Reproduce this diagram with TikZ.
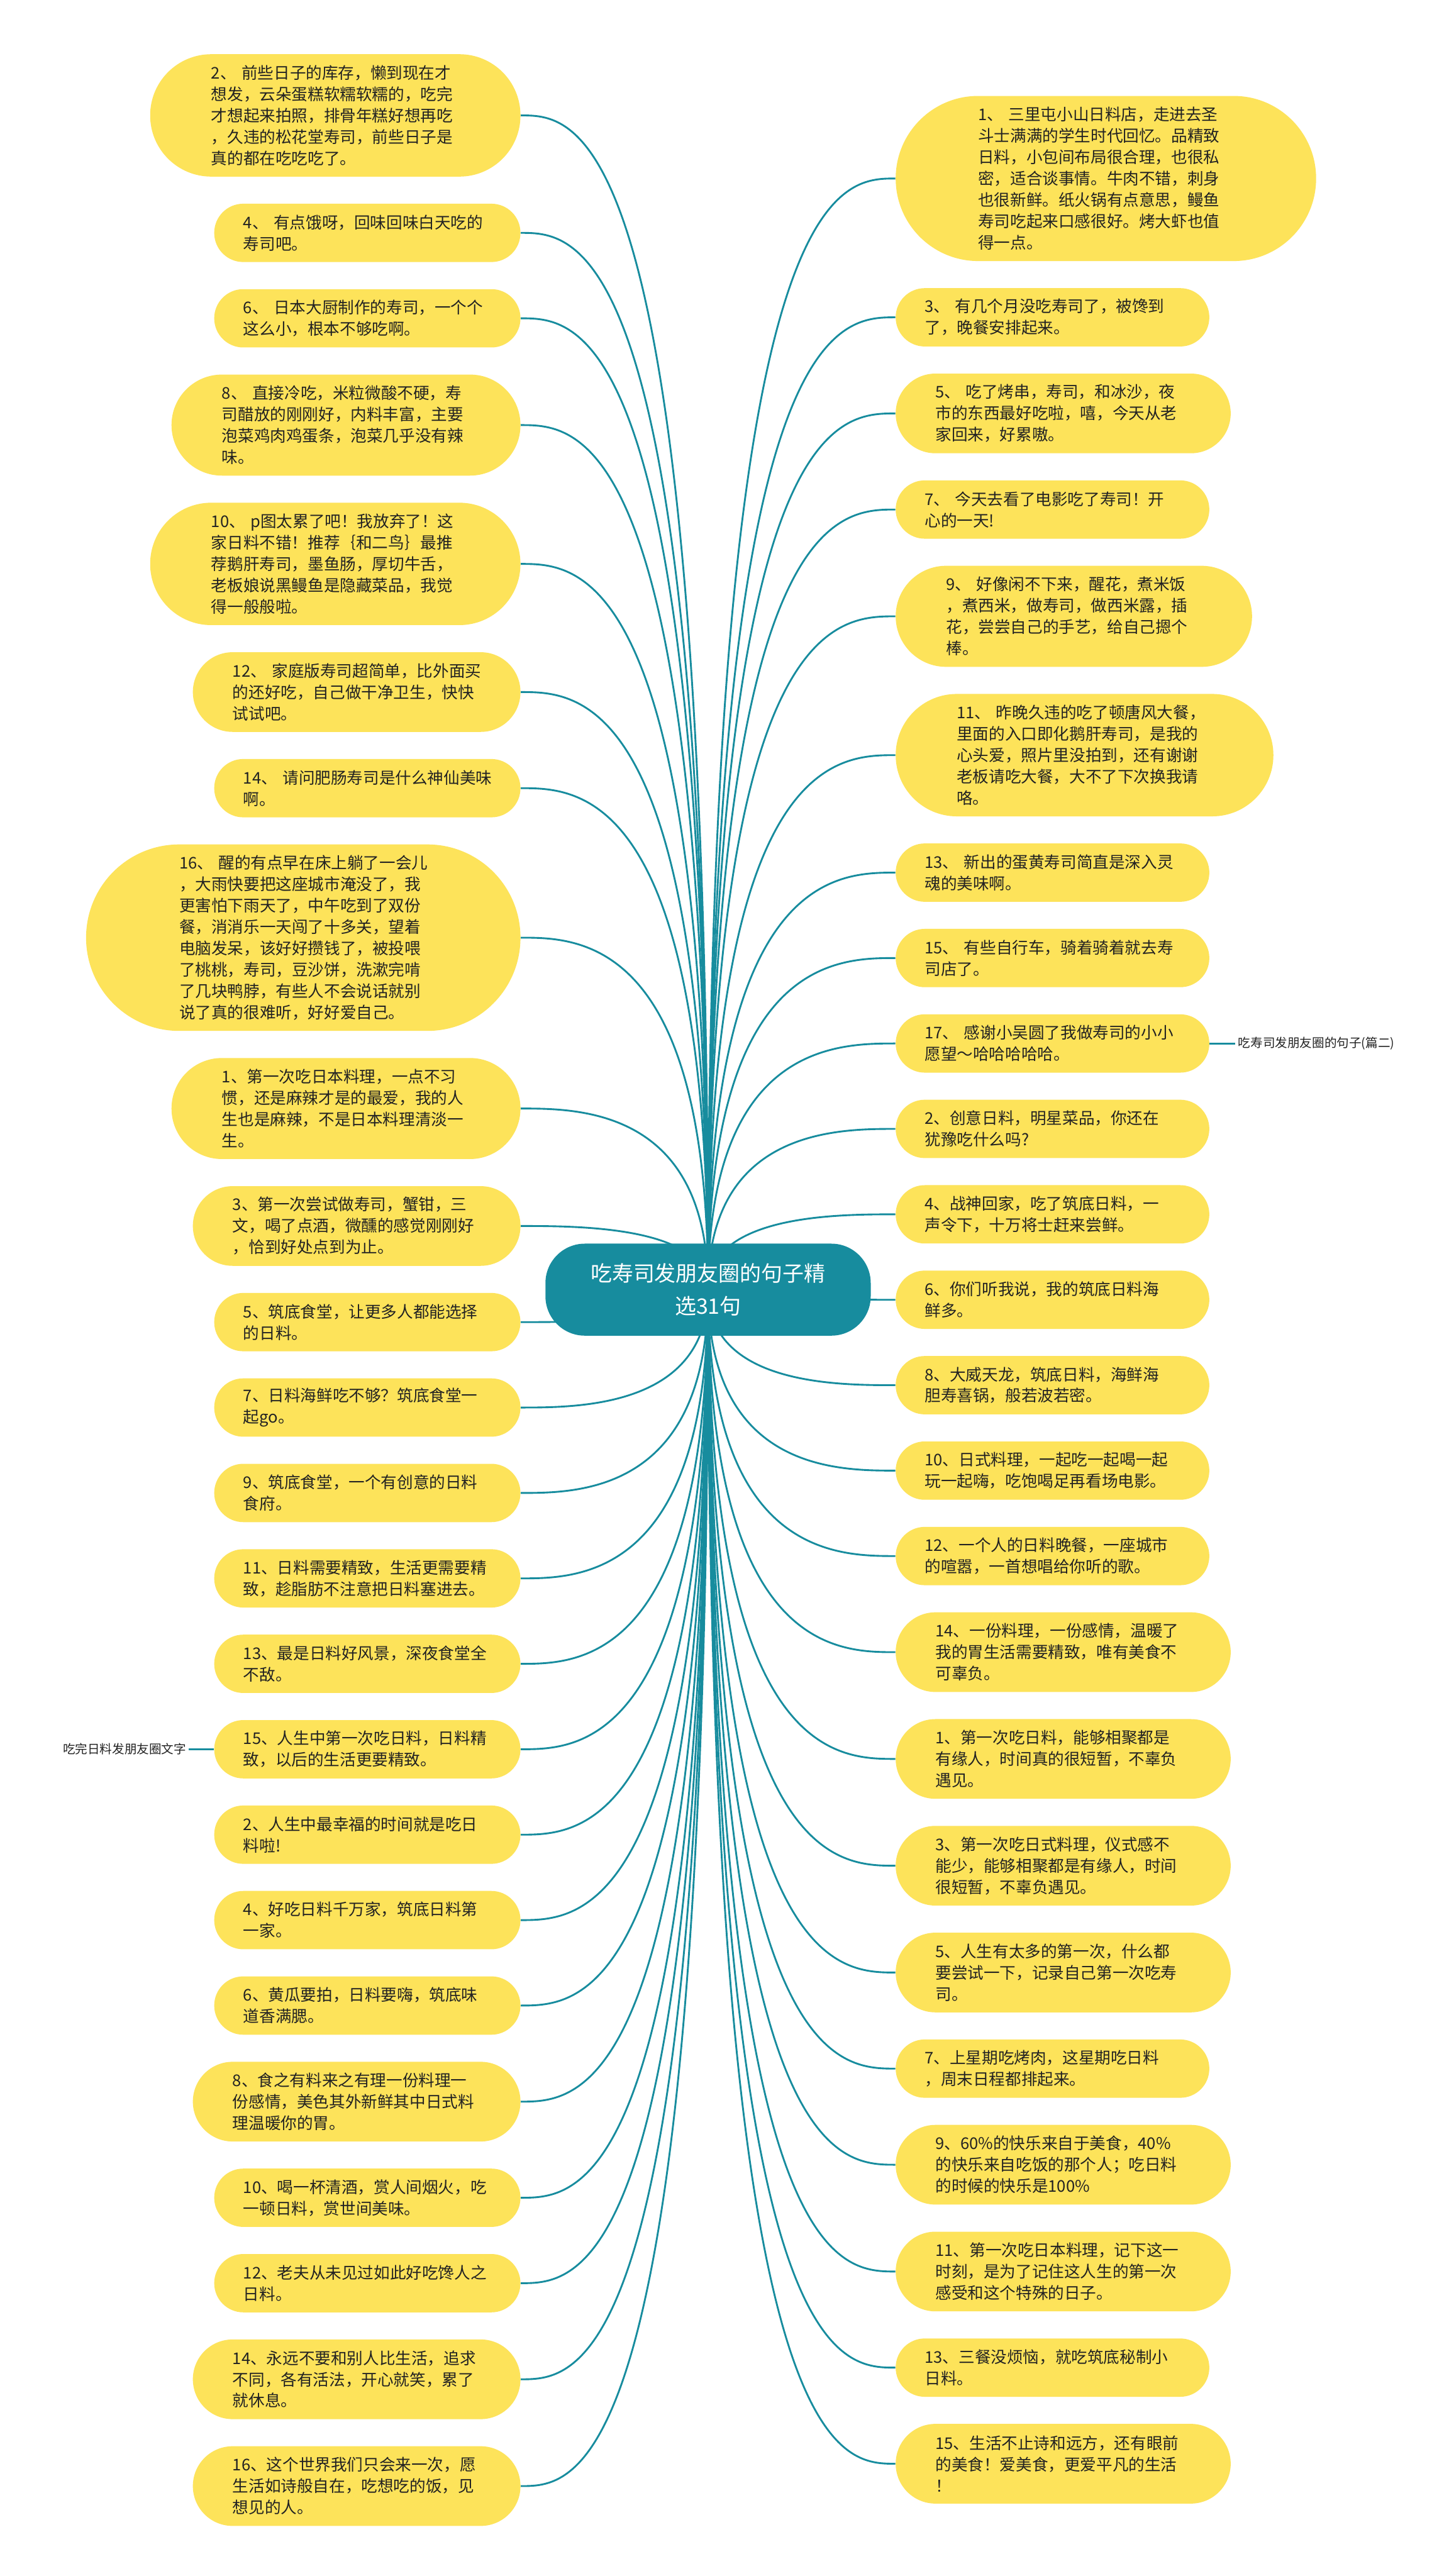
\documentclass[tikz,border=0pt]{standalone}
\usepackage{fontspec}
\setmainfont{Noto Sans CJK SC}
\definecolor{leafyellow}{HTML}{FDE35A}
\definecolor{mmteal}{HTML}{178C9E}
\definecolor{inktext}{HTML}{222222}
\pgfdeclarelayer{bg}
\pgfsetlayers{bg,main}
\tikzset{
  leafbox/.style={fill=leafyellow, draw=none, text=inktext, font=\fontsize{9.8}{13}\selectfont, align=left, inner ysep=1pt},
  rootbox/.style={fill=mmteal, draw=none, text=white, font=\fontsize{13}{20}\selectfont, align=center, minimum width=198pt, minimum height=56pt, rounded corners=24pt, inner sep=0pt},
  conn/.style={draw=mmteal, line width=1.1pt},
  sidelabel/.style={font=\fontsize{7.5}{9}\selectfont, text=inktext, inner sep=1.5pt}
}
\newcommand\leftleaf[4]{%
  \pgfmathsetmacro\lfH{13*#3+9.5}%
  \pgfmathsetmacro\lfR{\lfH/2-0.05}%
  \node[leafbox, anchor=east, text width=151pt, inner xsep=\lfR pt, minimum height=\lfH pt, rounded corners=\lfR pt] (#1) at (317,#2) {#4};%
  \begin{pgfonlayer}{bg}\draw[conn] (root.center) .. controls (root.center |- #1.east) and ([xshift=35pt]#1.east) .. (#1.east);\end{pgfonlayer}}
\newcommand\rightleaf[4]{%
  \pgfmathsetmacro\lfH{13*#3+9.5}%
  \pgfmathsetmacro\lfR{\lfH/2-0.05}%
  \node[leafbox, anchor=west, text width=155.5pt, inner xsep=\lfR pt, minimum height=\lfH pt, rounded corners=\lfR pt] (#1) at (545,#2) {#4};%
  \begin{pgfonlayer}{bg}\draw[conn] (root.center) .. controls (root.center |- #1.west) and ([xshift=-35pt]#1.west) .. (#1.west);\end{pgfonlayer}}
\begin{document}
\begin{tikzpicture}[x=1pt,y=-1pt]
\begin{pgfonlayer}{bg}
\fill[white] (0,0) rectangle (882,1568);
\end{pgfonlayer}
\useasboundingbox (0,0) rectangle (882,1568);

\node[rootbox] (root) at (431,785) {吃寿司发朋友圈的句子精\\选31句};

% left column
\leftleaf{L1}{70.25}{5}{2、~前些日子的库存，懒到现在才\\想发，云朵蛋糕软糯软糯的，吃完\\才想起来拍照，排骨年糕好想再吃\\，久违的松花堂寿司，前些日子是\\真的都在吃吃吃了。}
\leftleaf{L2}{141.75}{2}{4、~有点饿呀，回味回味白天吃的\\寿司吧。}
\leftleaf{L3}{193.75}{2}{6、~日本大厨制作的寿司，一个个\\这么小，根本不够吃啊。}
\leftleaf{L4}{258.75}{4}{8、~直接冷吃，米粒微酸不硬，寿\\司醋放的刚刚好，内料丰富，主要\\泡菜鸡肉鸡蛋条，泡菜几乎没有辣\\味。}
\leftleaf{L5}{343.25}{5}{10、~p图太累了吧！我放弃了！这\\家日料不错！推荐｛和二鸟｝最推\\荐鹅肝寿司，墨鱼肠，厚切牛舌，\\老板娘说黑鳗鱼是隐藏菜品，我觉\\得一般般啦。}
\leftleaf{L6}{421.25}{3}{12、~家庭版寿司超简单，比外面买\\的还好吃，自己做干净卫生，快快\\试试吧。}
\leftleaf{L7}{479.75}{2}{14、~请问肥肠寿司是什么神仙美味\\啊。}
\leftleaf{L8}{570.75}{8}{16、~醒的有点早在床上躺了一会儿\\，大雨快要把这座城市淹没了，我\\更害怕下雨天了，中午吃到了双份\\餐，消消乐一天闯了十多关，望着\\电脑发呆，该好好攒钱了，被投喂\\了桃桃，寿司，豆沙饼，洗漱完啃\\了几块鸭脖，有些人不会说话就别\\说了真的很难听，好好爱自己。}
\leftleaf{L9}{674.75}{4}{1、第一次吃日本料理，一点不习\\惯，还是麻辣才是的最爱，我的人\\生也是麻辣，不是日本料理清淡一\\生。}
\leftleaf{L10}{746.25}{3}{3、第一次尝试做寿司，蟹钳，三\\文，喝了点酒，微醺的感觉刚刚好\\，恰到好处点到为止。}
\leftleaf{L11}{804.75}{2}{5、筑底食堂，让更多人都能选择\\的日料。}
\leftleaf{L12}{856.75}{2}{7、日料海鲜吃不够？筑底食堂一\\起go。}
\leftleaf{L13}{908.75}{2}{9、筑底食堂，一个有创意的日料\\食府。}
\leftleaf{L14}{960.75}{2}{11、日料需要精致，生活更需要精\\致，趁脂肪不注意把日料塞进去。}
\leftleaf{L15}{1012.75}{2}{13、最是日料好风景，深夜食堂全\\不敌。}
\leftleaf{L16}{1064.75}{2}{15、人生中第一次吃日料，日料精\\致，以后的生活更要精致。}
\leftleaf{L17}{1116.75}{2}{2、人生中最幸福的时间就是吃日\\料啦!}
\leftleaf{L18}{1168.75}{2}{4、好吃日料千万家，筑底日料第\\一家。}
\leftleaf{L19}{1220.75}{2}{6、黄瓜要拍，日料要嗨，筑底味\\道香满腮。}
\leftleaf{L20}{1279.25}{3}{8、食之有料来之有理一份料理一\\份感情，美色其外新鲜其中日式料\\理温暖你的胃。}
\leftleaf{L21}{1337.75}{2}{10、喝一杯清酒，赏人间烟火，吃\\一顿日料，赏世间美味。}
\leftleaf{L22}{1389.75}{2}{12、老夫从未见过如此好吃馋人之\\日料。}
\leftleaf{L23}{1448.25}{3}{14、永远不要和别人比生活，追求\\不同，各有活法，开心就笑，累了\\就休息。}
\leftleaf{L24}{1513.25}{3}{16、这个世界我们只会来一次，愿\\生活如诗般自在，吃想吃的饭，见\\想见的人。}

% right column
\rightleaf{R1}{108.65}{7}{1、~三里屯小山日料店，走进去圣\\斗士满满的学生时代回忆。品精致\\日料，小包间布局很合理，也很私\\密，适合谈事情。牛肉不错，刺身\\也很新鲜。纸火锅有点意思，鳗鱼\\寿司吃起来口感很好。烤大虾也值\\得一点。}
\rightleaf{R2}{193.15}{2}{3、~有几个月没吃寿司了，被馋到\\了，晚餐安排起来。}
\rightleaf{R3}{251.65}{3}{5、~吃了烤串，寿司，和冰沙，夜\\市的东西最好吃啦，嘻，今天从老\\家回来，好累嗷。}
\rightleaf{R4}{310.15}{2}{7、~今天去看了电影吃了寿司！开\\心的一天!}
\rightleaf{R5}{375.15}{4}{9、~好像闲不下来，醒花，煮米饭\\，煮西米，做寿司，做西米露，插\\花，尝尝自己的手艺，给自己摁个\\棒。}
\rightleaf{R6}{459.65}{5}{11、~昨晚久违的吃了顿唐风大餐，\\里面的入口即化鹅肝寿司，是我的\\心头爱，照片里没拍到，还有谢谢\\老板请吃大餐，大不了下次换我请\\咯。}
\rightleaf{R7}{531.15}{2}{13、~新出的蛋黄寿司简直是深入灵\\魂的美味啊。}
\rightleaf{R8}{583.15}{2}{15、~有些自行车，骑着骑着就去寿\\司店了。}
\rightleaf{R9}{635.15}{2}{17、~感谢小吴圆了我做寿司的小小\\愿望～哈哈哈哈哈。}
\rightleaf{R10}{687.15}{2}{2、创意日料，明星菜品，你还在\\犹豫吃什么吗?}
\rightleaf{R11}{739.15}{2}{4、战神回家，吃了筑底日料，一\\声令下，十万将士赶来尝鲜。}
\rightleaf{R12}{791.15}{2}{6、你们听我说，我的筑底日料海\\鲜多。}
\rightleaf{R13}{843.15}{2}{8、大威天龙，筑底日料，海鲜海\\胆寿喜锅，般若波若密。}
\rightleaf{R14}{895.15}{2}{10、日式料理，一起吃一起喝一起\\玩一起嗨，吃饱喝足再看场电影。}
\rightleaf{R15}{947.15}{2}{12、一个人的日料晚餐，一座城市\\的喧嚣，一首想唱给你听的歌。}
\rightleaf{R16}{1005.65}{3}{14、一份料理，一份感情，温暖了\\我的胃生活需要精致，唯有美食不\\可辜负。}
\rightleaf{R17}{1070.65}{3}{1、第一次吃日料，能够相聚都是\\有缘人，时间真的很短暂，不辜负\\遇见。}
\rightleaf{R18}{1135.65}{3}{3、第一次吃日式料理，仪式感不\\能少，能够相聚都是有缘人，时间\\很短暂，不辜负遇见。}
\rightleaf{R19}{1200.65}{3}{5、人生有太多的第一次，什么都\\要尝试一下，记录自己第一次吃寿\\司。}
\rightleaf{R20}{1259.15}{2}{7、上星期吃烤肉，这星期吃日料\\，周末日程都排起来。}
\rightleaf{R21}{1317.65}{3}{9、60\%的快乐来自于美食，40\%\\的快乐来自吃饭的那个人；吃日料\\的时候的快乐是100\%}
\rightleaf{R22}{1382.65}{3}{11、第一次吃日本料理，记下这一\\时刻，是为了记住这人生的第一次\\感受和这个特殊的日子。}
\rightleaf{R23}{1441.15}{2}{13、三餐没烦恼，就吃筑底秘制小\\日料。}
\rightleaf{R24}{1499.65}{3}{15、生活不止诗和远方，还有眼前\\的美食！爱美食，更爱平凡的生活\\！}

% side labels
\node[sidelabel, anchor=west] (lab1) at (752,635.15) {吃寿司发朋友圈的句子(篇二)};
\node[sidelabel, anchor=east] (lab2) at (115,1064.75) {吃完日料发朋友圈文字};
\begin{pgfonlayer}{bg}
\draw[conn] (R9.east) -- (lab1.west);
\draw[conn] (L16.west) -- (lab2.east);
\end{pgfonlayer}
\end{tikzpicture}
\end{document}
